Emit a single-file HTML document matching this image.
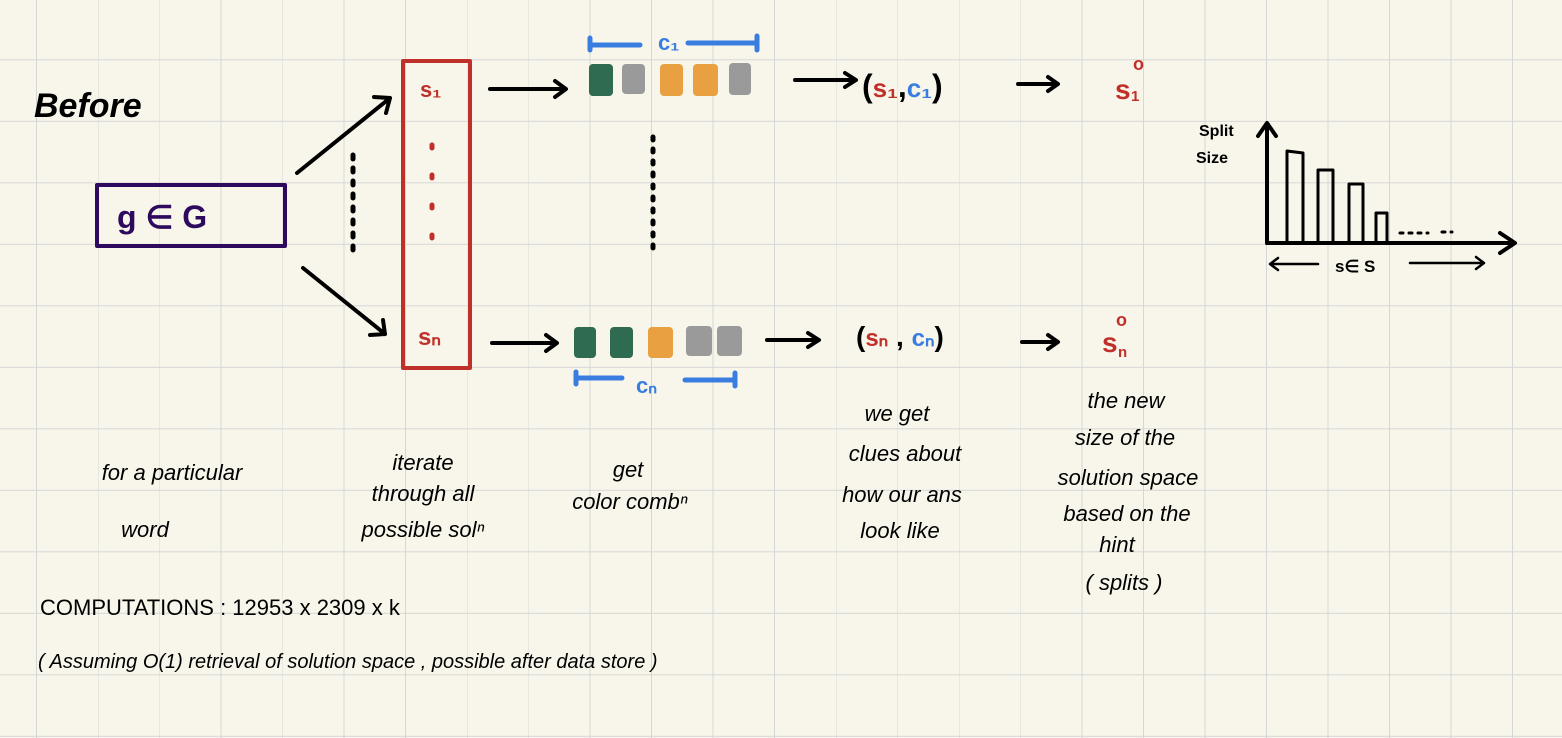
<!DOCTYPE html>
<html><head><meta charset="utf-8"><style>
html,body{margin:0;padding:0;background:#f8f6ea;}
svg{display:block}
text{font-family:"Liberation Sans",sans-serif;}
</style></head><body>
<svg width="1562" height="738" viewBox="0 0 1562 738" xmlns="http://www.w3.org/2000/svg">
<defs>
<pattern id="g" x="36" y="-2.2" width="61.5" height="61.5" patternUnits="userSpaceOnUse">
<path d="M0 0V61.5M0 0H61.5" stroke="#d6d6d6" stroke-width="2" fill="none"/>
</pattern>
</defs>
<rect width="1562" height="738" fill="#f8f6ea"/>
<rect width="1562" height="738" fill="url(#g)"/>
<g stroke="#000" stroke-width="4" fill="none" stroke-linecap="round" stroke-linejoin="round">
<text x="34" y="117" font-size="34" fill="#000" stroke="none" font-weight="bold" font-style="italic">Before</text>
<rect x="97" y="185" width="188" height="61" stroke="#2d0a5e" stroke-width="4"/>
<path d="M297 173 L390 98 M374 97 L390 98 L386 113"/>
<path d="M303 268 L385 334 M370 335 L385 334 L383 320"/>
<path d="M353 155 V255" stroke-dasharray="4 9" stroke-width="5"/>
<rect x="403" y="61" width="67" height="307" stroke="#c0302a" stroke-width="4"/>
<path d="M432 145 V265" stroke="#c0302a" stroke-dasharray="3 27" stroke-width="5"/>
<path d="M490 89 H565 M555 81 L566 89 L555 97"/>
<path d="M492 343 H556 M546 335 L557 343 L546 351"/>
<path d="M795 80 H855 M845 73 L856 80 L845 87"/>
<path d="M767 340 H818 M808 333 L819 340 L808 347"/>
<path d="M1018 84 H1057 M1048 77 L1058 84 L1048 91"/>
<path d="M1022 342 H1057 M1048 335 L1058 342 L1048 349"/>
<path d="M653 137 V250" stroke-dasharray="3 9" stroke-width="5"/>
<path d="M590 38 V50 M590 45 H640 M688 43 H757 M757 36 V50" stroke="#3a7de0" stroke-width="5"/>
<path d="M576 372 V384 M576 378 H622 M685 380 H735 M735 373 V386" stroke="#3a7de0" stroke-width="5"/>
<path d="M1267 243 V125 M1258 136 L1267 123 L1276 136"/>
<path d="M1267 243 H1513 M1500 233 L1515 243 L1500 253"/>
<path d="M1287 243 V151 L1303 153 V243 M1318 243 V170 H1333 V243 M1349 243 V184 H1363 V243 M1376 243 V213 H1387 V243" stroke-width="3"/>
<path d="M1400 233 H1428 M1442 232 H1452" stroke-dasharray="3 6" stroke-width="3"/>
<path d="M1318 264 H1270 M1278 258 L1270 264 L1278 270 M1410 263 H1484 M1476 257 L1484 263 L1476 269" stroke-width="2.5"/>
</g>
<g>
<rect x="589" y="64" width="24" height="32" rx="4" fill="#2e6b50"/>
<rect x="622" y="64" width="23" height="30" rx="4" fill="#9a9a9a"/>
<rect x="660" y="64" width="23" height="32" rx="4" fill="#e8a040"/>
<rect x="693" y="64" width="25" height="32" rx="4" fill="#e8a040"/>
<rect x="729" y="63" width="22" height="32" rx="4" fill="#9a9a9a"/>
<rect x="574" y="327" width="22" height="31" rx="4" fill="#2e6b50"/>
<rect x="610" y="327" width="23" height="31" rx="4" fill="#2e6b50"/>
<rect x="648" y="327" width="25" height="31" rx="4" fill="#e8a040"/>
<rect x="686" y="326" width="26" height="30" rx="4" fill="#9a9a9a"/>
<rect x="717" y="326" width="25" height="30" rx="4" fill="#9a9a9a"/>
</g>
<g font-weight="bold">
<text x="117" y="228" font-size="32" fill="#2d0a5e">g ∈ G</text>
<text x="420" y="97" font-size="22" fill="#c0302a">s₁</text>
<text x="418" y="345" font-size="24" fill="#c0302a">sₙ</text>
<text x="658" y="50" font-size="22" fill="#3a7de0">c₁</text>
<text x="636" y="393" font-size="22" fill="#3a7de0">cₙ</text>
<text x="862" y="97" font-size="32" fill="#000">(<tspan fill="#c0302a" font-size="26">s₁</tspan>,<tspan fill="#3a7de0" font-size="26">c₁</tspan>)</text>
<text x="856" y="346" font-size="28" fill="#000">(<tspan fill="#c0302a" font-size="24">sₙ</tspan> , <tspan fill="#3a7de0" font-size="24">cₙ</tspan>)</text>
<g fill="#c0302a">
<text x="1115" y="99" font-size="28">s</text>
<text x="1133" y="70" font-size="18">o</text>
<text x="1131" y="101" font-size="15">1</text>
<text x="1102" y="352" font-size="28">s</text>
<text x="1116" y="326" font-size="18">o</text>
<text x="1118" y="357" font-size="15">n</text>
</g>
<text x="1199" y="136" font-size="16" fill="#000">Split</text>
<text x="1196" y="163" font-size="16" fill="#000">Size</text>
<text x="1335" y="272" font-size="17" fill="#000">s∈ S</text>
</g>
<g font-size="22" fill="#000" font-style="italic" text-anchor="middle">
<text x="172" y="480">for a particular</text>
<text x="145" y="537">word</text>
<text x="423" y="470">iterate</text>
<text x="423" y="501">through all</text>
<text x="423" y="537">possible solⁿ</text>
<text x="628" y="477">get</text>
<text x="630" y="509">color combⁿ</text>
<text x="897" y="421">we get</text>
<text x="905" y="461">clues about</text>
<text x="902" y="502">how our ans</text>
<text x="900" y="538">look like</text>
<text x="1126" y="408">the new</text>
<text x="1125" y="445">size of the</text>
<text x="1128" y="485">solution space</text>
<text x="1127" y="521">based on the</text>
<text x="1117" y="552">hint</text>
<text x="1124" y="590">( splits )</text>
</g>
<text x="40" y="615" font-size="22" fill="#000">COMPUTATIONS :  12953 x 2309 x k</text>
<text x="38" y="668" font-size="20" fill="#000" font-style="italic">( Assuming  O(1)  retrieval  of  solution  space , possible after data store )</text>
</svg>
</body></html>
